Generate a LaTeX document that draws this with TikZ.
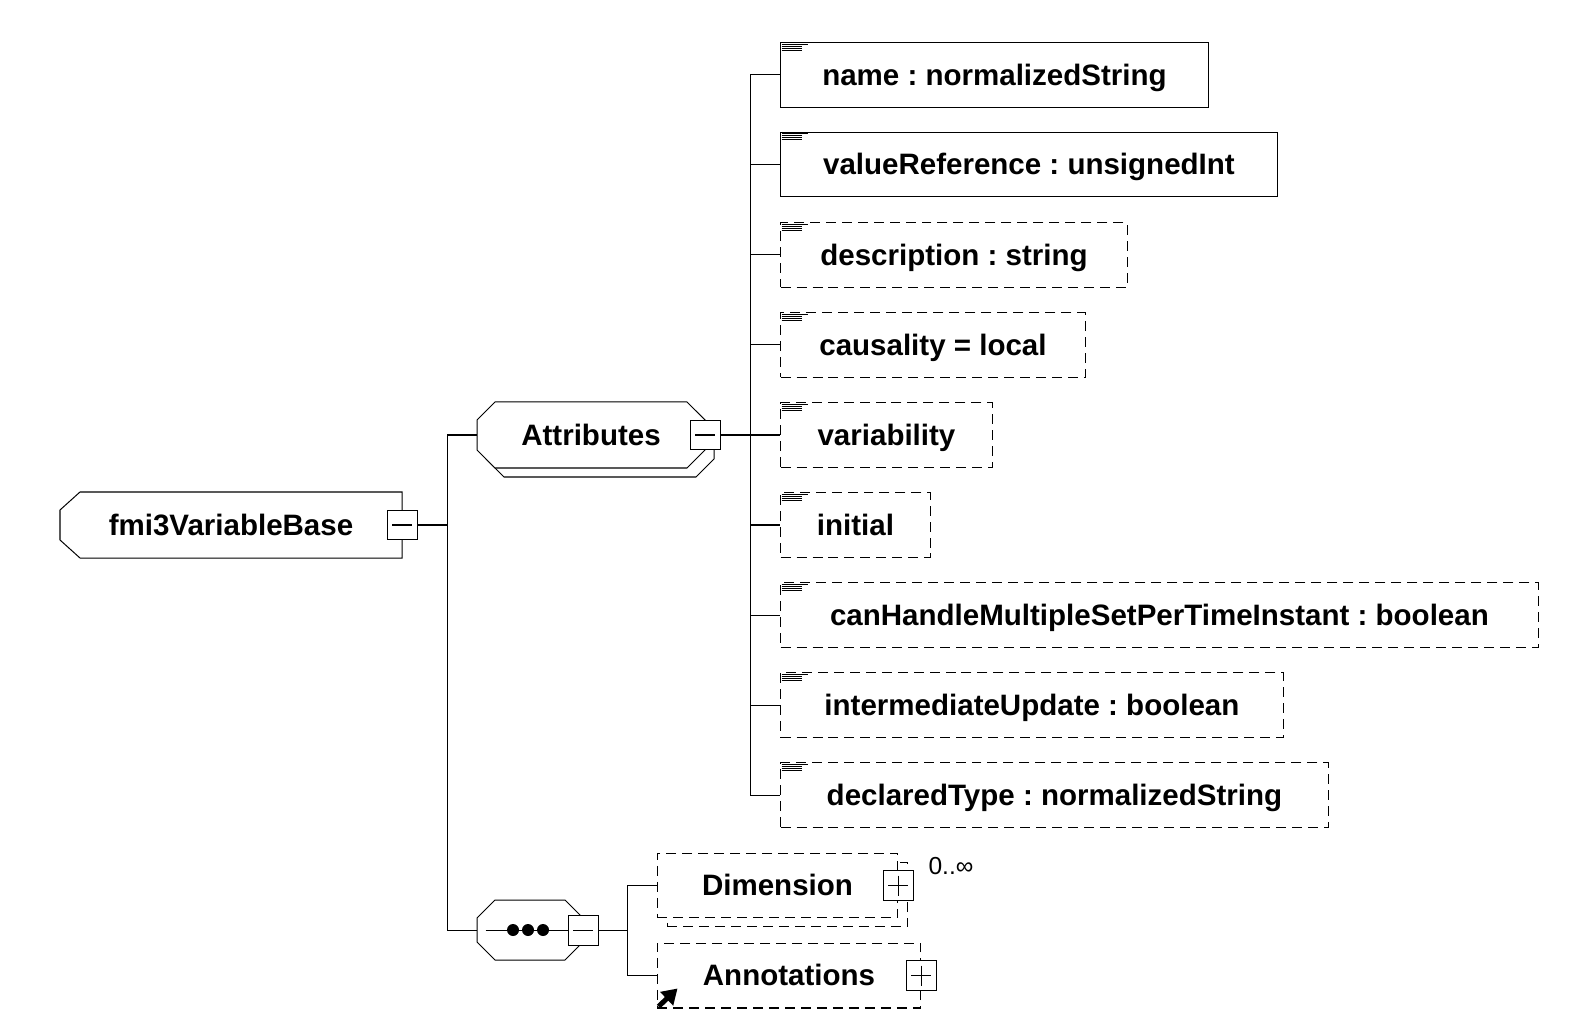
\documentclass[tikz,border=0pt]{standalone}
\usepackage{fontspec}
\setmainfont{Liberation Sans}
\usetikzlibrary{shadows,arrows.meta}
\frenchspacing

\begin{document}
\begin{tikzpicture}[x=0.02cm,y=-0.02cm,line width=0.57pt]
		\tikzstyle{boldtext} = [font=\fontsize{16.8}{20}\selectfont\bfseries,text height=11.8pt,text depth=0pt]
		\tikzstyle{attr} = [draw,fill=white,boldtext,anchor=west,minimum height=1.3cm,inner sep=0pt,
			path picture={
				\draw[solid,line width=0.4pt] ([shift={(0.02cm,-0.03cm)}]path picture bounding box.north west) -- ++(0.52cm,0);
				\draw[solid,line width=0.4pt] ([shift={(0.02cm,-0.07cm)}]path picture bounding box.north west) -- ++(0.4cm,0);
				\draw[solid,line width=0.4pt] ([shift={(0.02cm,-0.11cm)}]path picture bounding box.north west) -- ++(0.4cm,0);
				\draw[solid,line width=0.4pt] ([shift={(0.02cm,-0.15cm)}]path picture bounding box.north west) -- ++(0.4cm,0);
			}]
		\tikzstyle{attropt} = [attr,dash pattern=on 0.2cm off 0.12cm]
		\tikzstyle{group} = [boldtext,inner sep=0pt]
		\tikzstyle{elem} = [draw,fill=white,boldtext,minimum height=1.3cm,inner sep=0pt,dash pattern=on 0.2cm off 0.12cm]
		\tikzstyle{minusbox} = [draw,fill=white,solid,minimum size=0.6cm,inner sep=0pt,
			path picture={\draw ([xshift=0.1cm]path picture bounding box.west) -- ([xshift=-0.1cm]path picture bounding box.east);}]
		\tikzstyle{plusbox} = [draw,fill=white,solid,minimum size=0.6cm,inner sep=0pt,
			path picture={\draw ([xshift=0.1cm]path picture bounding box.west) -- ([xshift=-0.1cm]path picture bounding box.east);
				\draw ([yshift=-0.1cm]path picture bounding box.north) -- ([yshift=0.1cm]path picture bounding box.south);}]

		\useasboundingbox (0,0) rectangle (1569,1020);

		% complex type
		\draw[fill=white] (80,492) -- (402,492) -- (402,558) -- (80,558) -- (60,540) -- (60,510) -- cycle;
		\node[group,minimum width=6.84cm,minimum height=1.32cm] (base) at (231,525) {fmi3VariableBase};
		\node[minusbox] (basemin) at (base.east) {};

		% attribute group with its shadow
		\draw[fill=white] (504,411) -- (696,411) -- (714,429) -- (714,459) -- (696,477) -- (504,477) -- (486,459) -- (486,429) -- cycle;
		\draw[fill=white] (495,402) -- (687,402) -- (705,420) -- (705,450) -- (687,468) -- (495,468) -- (477,450) -- (477,420) -- cycle;
		\node[group,minimum width=4.56cm,minimum height=1.32cm] (attrs) at (591,435) {Attributes};
		\node[minusbox] (attrsmin) at (attrs.east) {};

		% sequence
		\draw[fill=white] (495,900) -- (565,900) -- (583,918) -- (583,942) -- (565,960) -- (495,960) -- (477,942) -- (477,918) -- cycle;
		\node[group,minimum width=2.12cm,minimum height=1.2cm] (seq) at (530,930) {};
		\node[minusbox] (seqmin) at (seq.east) {};
		\draw ([xshift=0.18cm]seq.west) -- (seqmin.west);
		\fill (513,930) circle (0.12cm);
		\fill (528,930) circle (0.12cm);
		\fill (543,930) circle (0.12cm);

		% attributes
		\node[attr,minimum width=8.56cm] (name) at (780,75) {name : normalizedString};
		\node[attr,minimum width=9.94cm] (valref) at (780,164.5) {valueReference : unsignedInt};
		\node[attropt,minimum width=6.94cm] (descr) at (780,255) {description : string};
		\node[attropt,minimum width=6.1cm] (causal) at (780,345) {causality = local};
		\node[attropt,minimum width=4.24cm] (variab) at (780,435) {variability};
		\node[attropt,minimum width=3cm] (init) at (780,525) {initial};
		\node[attropt,minimum width=15.16cm] (canhandle) at (780,615) {canHandleMultipleSetPerTimeInstant : boolean};
		\node[attropt,minimum width=10.06cm] (interupd) at (780,705) {intermediateUpdate : boolean};
		\node[attropt,minimum width=10.96cm] (decltype) at (780,795) {declaredType : normalizedString};

		% elements
		\node[elem,minimum width=4.82cm,
			copy shadow={shadow xshift=0.2cm,shadow yshift=-0.18cm,draw=black,fill=white,line width=0.57pt,dash pattern=on 0.2cm off 0.12cm}] (dim) at (777.5,885.5) {Dimension};
		\node[plusbox] (dimplus) at (dim.east) {};
		\node[font=\fontsize{14}{16}\selectfont] (dimocc) at (951,866) {0..∞};

		\node[elem,minimum width=5.28cm] (ann) at (789,975.5) {Annotations};
		\node[plusbox] (annplus) at (ann.east) {};
		\draw[line width=0.1cm,-{Triangle[length=0.3cm,width=0.36cm]}] ([shift={(2,-2)}]ann.south west) -- ++(19,-18);

		% connectors
		\coordinate (basefork) at (447,525);
		\draw (basemin.east) -- (basefork);
		\draw (attrs.west) -| (basefork);
		\draw (seq.west) -| (basefork);

		\coordinate (attrfork) at (750,435);
		\draw (attrsmin.east) -- (attrfork);
		\draw (attrfork) |- (name.west);
		\draw (attrfork) |- (valref.west);
		\draw (attrfork) |- (descr.west);
		\draw (attrfork) |- (causal.west);
		\draw (attrfork) -- (variab.west);
		\draw (attrfork) |- (init.west);
		\draw (attrfork) |- (canhandle.west);
		\draw (attrfork) |- (interupd.west);
		\draw (attrfork) |- (decltype.west);

		\coordinate (seqfork) at (627,930);
		\draw (seqmin.east) -- (seqfork);
		\draw (seqfork) |- (dim.west);
		\draw (seqfork) |- (ann.west);
	\end{tikzpicture}
\end{document}
